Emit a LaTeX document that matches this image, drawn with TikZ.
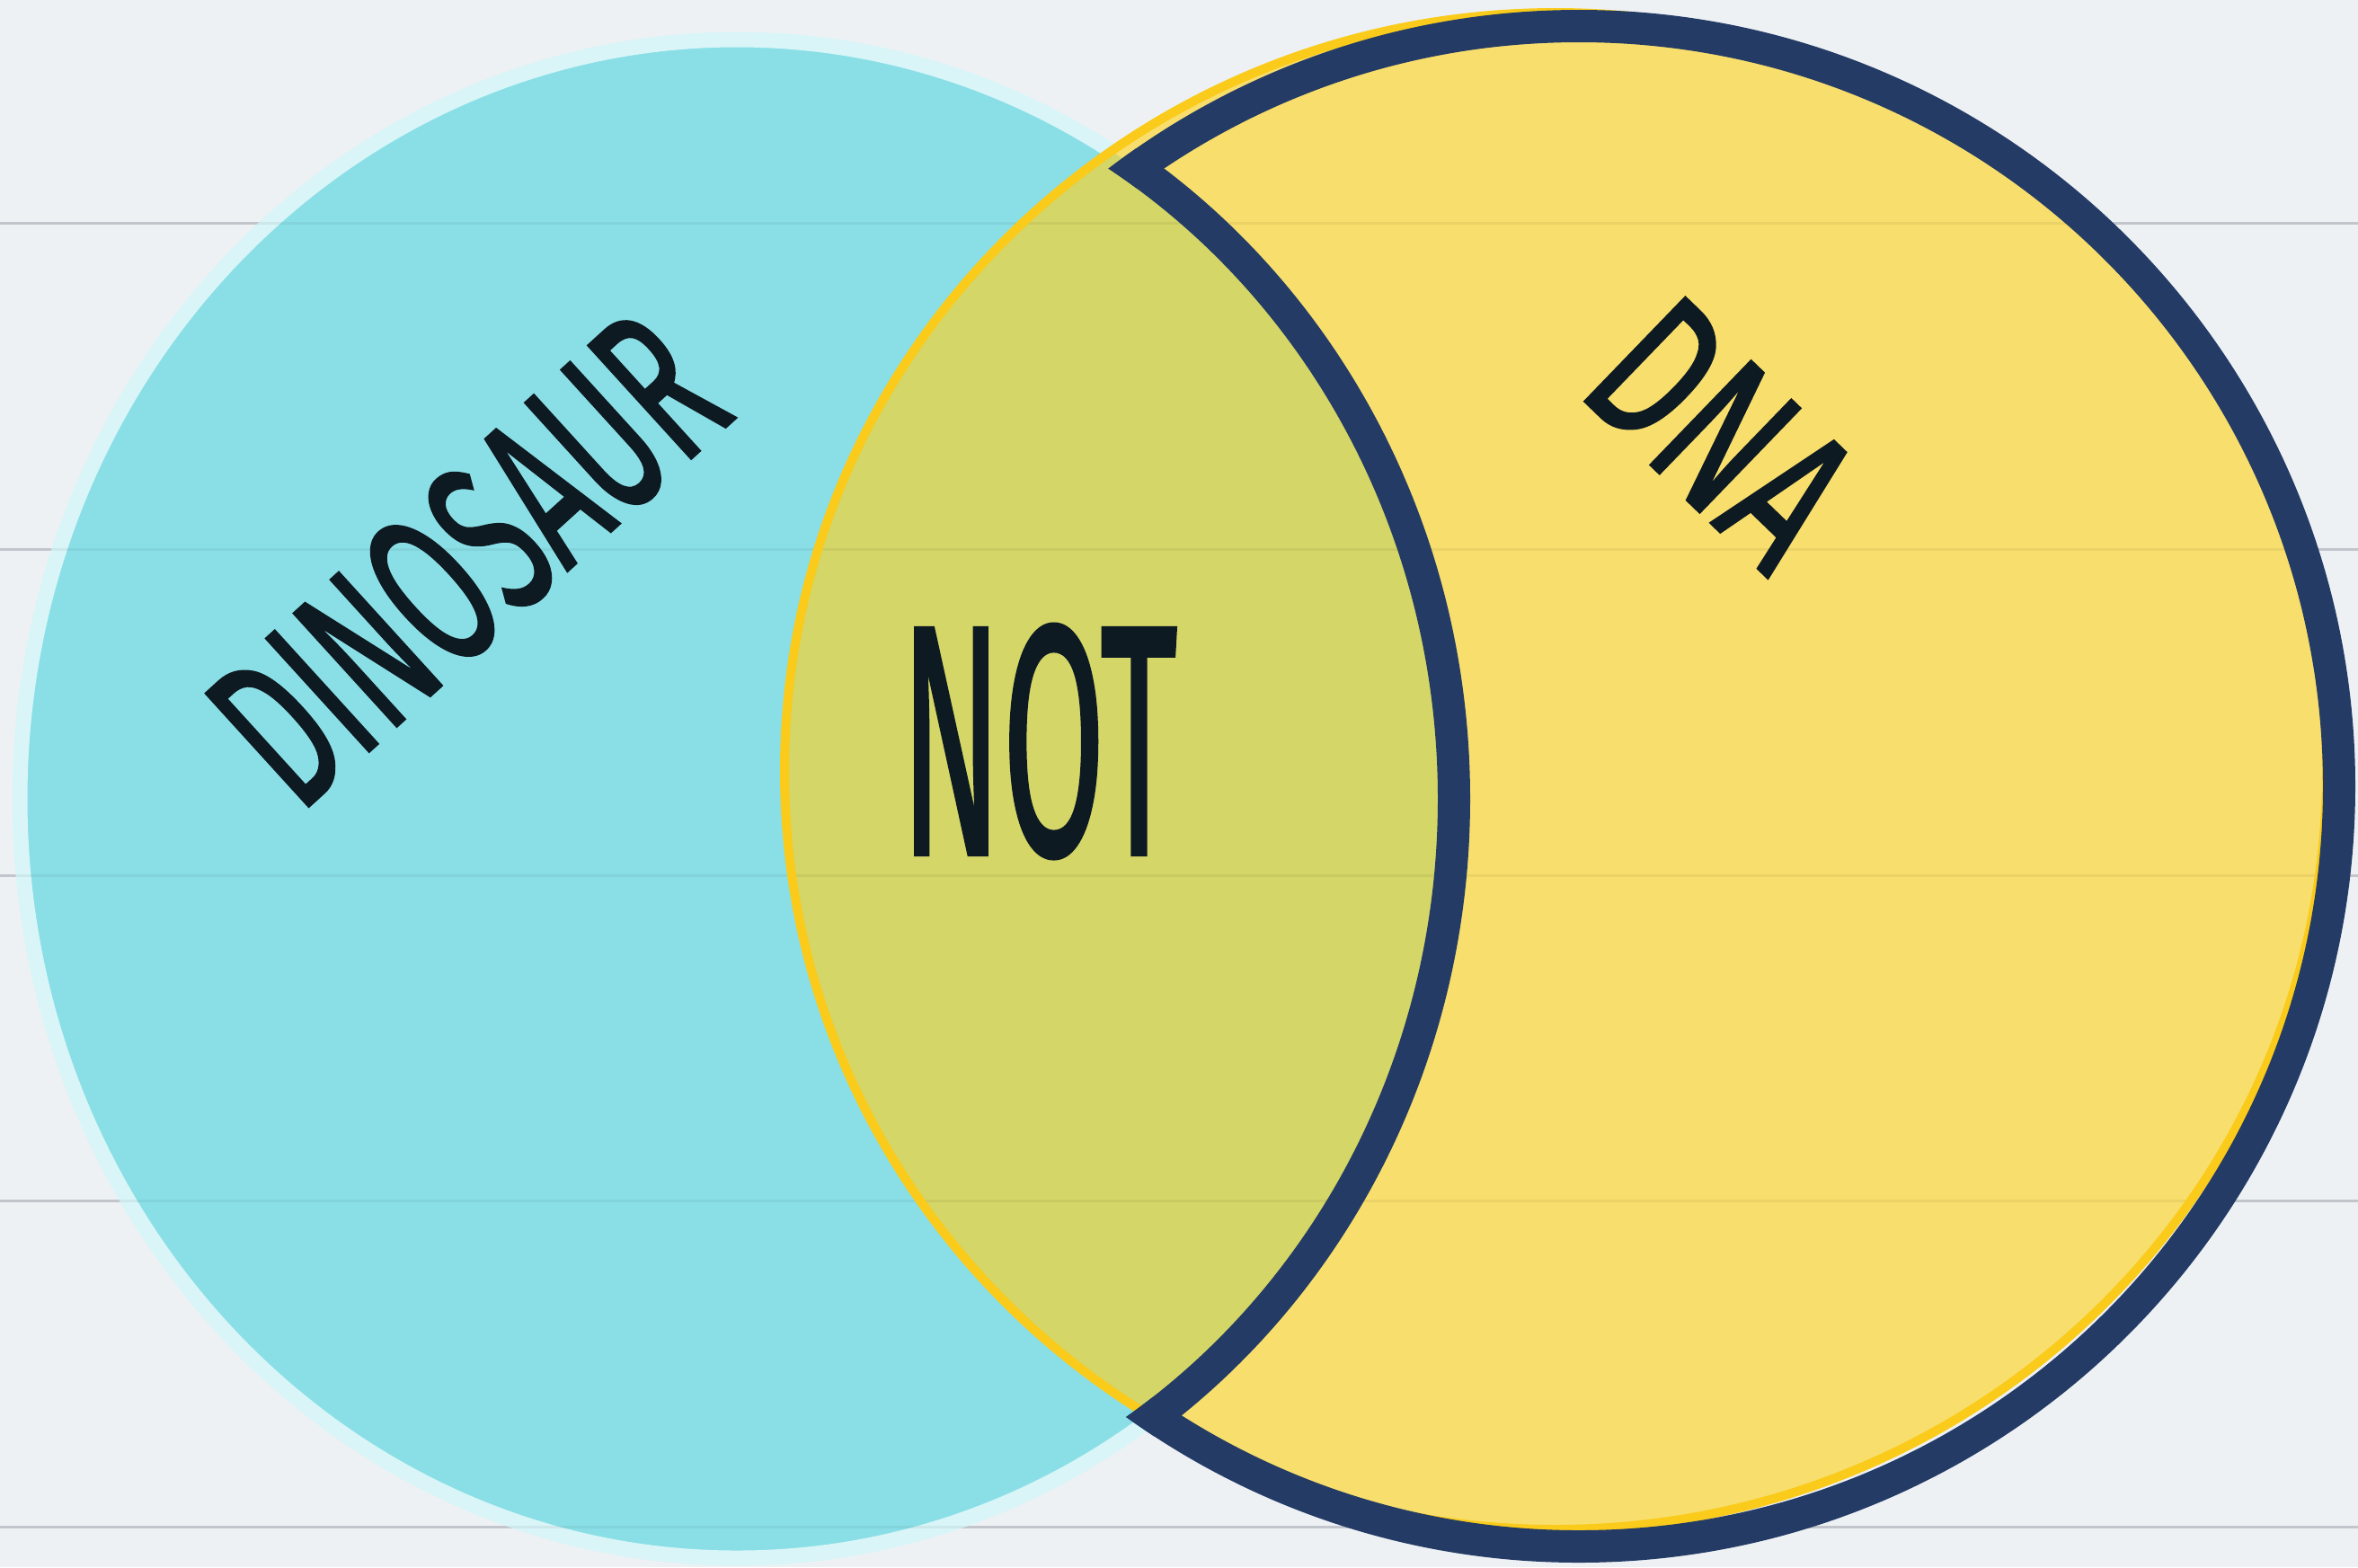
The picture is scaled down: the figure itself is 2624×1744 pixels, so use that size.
\documentclass[tikz,border=0pt]{standalone}
\usepackage{fontspec}
\setmainfont{Fira Sans}
\newfontfamily\handfont{Fira Sans}[FakeBold=1.5]
\usepackage{graphicx}
\definecolor{paper}{HTML}{EEF1F4}
\definecolor{ruled}{HTML}{CDD0D6}
\definecolor{cyanfill}{HTML}{8ADFE6}
\definecolor{cyanedge}{HTML}{D9F5F8}
\definecolor{yelfill}{HTML}{F8DE6C}
\definecolor{yeledge}{HTML}{FACB1A}
\definecolor{overlap}{HTML}{D4D668}
\definecolor{navy}{HTML}{233B65}
\definecolor{inkc}{HTML}{0E1A22}
\tikzset{
  bgline/.style={draw=ruled, line width=0.03cm},
  faintline/.style={draw=black, opacity=0.05, line width=0.03cm},
  lbl/.style={inner sep=0pt, outer sep=0pt, text=inkc, font=\handfont},
}
\begin{document}
\begin{tikzpicture}[x=0.01cm,y=-0.01cm]
\useasboundingbox (0,0) rectangle (2624,1744);
\clip (0,0) rectangle (2624,1744);
\fill[paper] (0,0) rectangle (2624,1744);
\foreach \yy in {248,611,974,1336,1699}{
  \draw[bgline] (0,\yy) -- (2624,\yy);
}
% left ellipse
\filldraw[fill=cyanfill, draw=cyanedge, line width=0.17cm] (820,889) ellipse [x radius=798, y radius=845];
% right shape fill
\fill[yelfill] (1731,858) ellipse [x radius=858, y radius=844];
% overlap
\begin{scope}
  \clip (820,889) ellipse [x radius=798, y radius=845];
  \fill[overlap] (1731,858) ellipse [x radius=858, y radius=844];
\end{scope}
% faint ruled lines through shapes
\foreach \yy in {248,611,974,1336,1699}{
  \draw[faintline] (0,\yy) -- (2624,\yy);
}
% yellow outline
\draw[yeledge, line width=0.10cm] (1731,858) ellipse [x radius=858, y radius=844];
% navy crescent: outer band (circle ring outside the ellipse)
\begin{scope}[even odd rule]
  \clip (0,0) rectangle (2624,1744) (820,889) ellipse [x radius=780, y radius=827];
  \fill[navy] (1757,875) circle [radius=864] (1757,875) circle [radius=828];
\end{scope}
% navy crescent: inner band (ellipse ring inside the circle)
\begin{scope}
  \clip (1757,875) circle [radius=864];
  \fill[navy, even odd rule] (820,889) ellipse [x radius=816, y radius=863] (820,889) ellipse [x radius=780, y radius=827];
\end{scope}
% labels
\node[lbl, rotate=42.3] (dino) at (520,622) {\resizebox{6.6cm}{1.72cm}{DINOSAUR}};
\node[lbl] (nott) at (1156,825) {\resizebox{3.08cm}{2.55cm}{NOT}};
\node[lbl, rotate=-44] (dna) at (1916,482) {\resizebox{3.0cm}{1.6cm}{DNA}};
\end{tikzpicture}
\end{document}
